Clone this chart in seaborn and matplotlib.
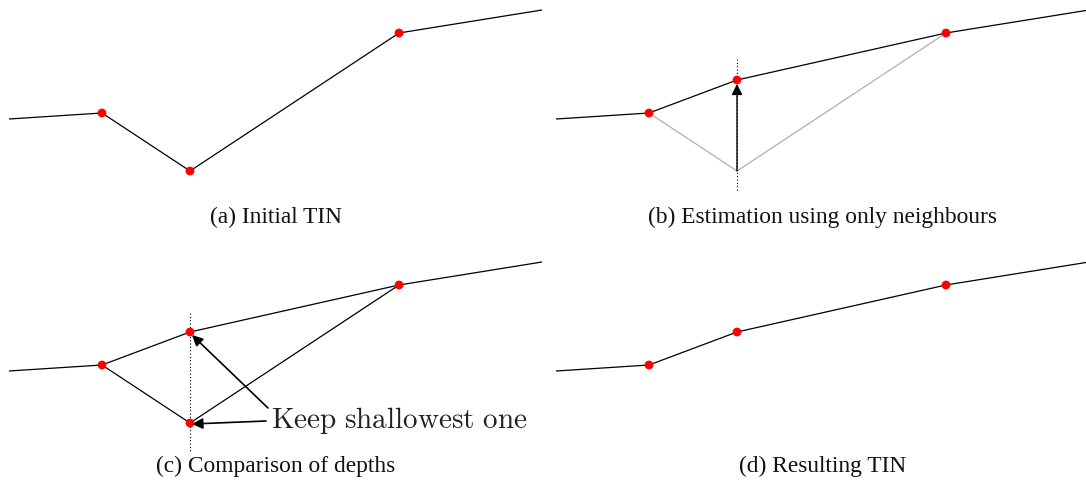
import pandas as pd
import matplotlib.pyplot as plt
import seaborn as sns

# Profile nodes (horizontal position) and depths (larger = deeper)
node_x = [0, 93, 181, 390, 533]
depth_initial = [11.9, 11.3, 17.1, 3.3, 1.0]
depth_estimate = 8.0          # estimated depth of the middle node from its neighbours
captions = ["(a) Initial TIN", "(b) Estimation using only neighbours",
            "(c) Comparison of depths", "(d) Resulting TIN"]
note_text = "Keep shallowest one"

sns.set_theme(style="white")
plt.rcParams['font.family'] = ['Liberation Serif', 'DejaVu Serif']
plt.rcParams['mathtext.fontset'] = 'cm'

LINE = dict(color="black", linewidth=0.9)
GREY = dict(color="#b0b0b0", linewidth=0.9)
DOT = dict(color="red", s=40, edgecolor="none", zorder=5)

mid = node_x[2]
depth_result = depth_initial[:2] + [depth_estimate] + depth_initial[3:]

df_initial = pd.DataFrame({"x": node_x, "depth": depth_initial})
df_result = pd.DataFrame({"x": node_x, "depth": depth_result})
df_neigh = df_initial.iloc[1:4]          # p1 -> deep middle node -> p3
pts_initial = df_initial.iloc[1:4]
pts_result = df_result.iloc[1:4]
pts_both = pd.concat([pts_result, df_initial.iloc[[2]]])

fig = plt.figure(figsize=(10.86, 4.84), dpi=100)
W, H = 1086, 484
pw, ph = 533, 232
axes = [
    fig.add_axes([9 / W, (H - ph) / H, pw / W, ph / H]),
    fig.add_axes([556 / W, (H - ph) / H, pw / W, ph / H]),
    fig.add_axes([9 / W, 0, pw / W, ph / H]),
    fig.add_axes([556 / W, 0, pw / W, ph / H]),
]

# (a) initial TIN
ax = axes[0]
sns.lineplot(data=df_initial, x="x", y="depth", sort=False, ax=ax, **LINE)
sns.scatterplot(data=pts_initial, x="x", y="depth", ax=ax, **DOT)

# (b) estimation from neighbours
ax = axes[1]
sns.lineplot(data=df_neigh, x="x", y="depth", sort=False, ax=ax, **GREY)
sns.lineplot(data=df_result, x="x", y="depth", sort=False, ax=ax, **LINE)
sns.scatterplot(data=pts_result, x="x", y="depth", ax=ax, **DOT)
ax.vlines(mid, 5.9, 19.2, colors="black", linestyles=(0, (1, 2)), linewidth=0.8)
ax.annotate("", xy=(mid, depth_estimate + 0.4), xytext=(mid, depth_initial[2]),
            arrowprops=dict(arrowstyle="-|>", color="black", lw=1.0, mutation_scale=16,
                            shrinkA=0, shrinkB=0))

# (c) comparison of depths
ax = axes[2]
sns.lineplot(data=df_neigh, x="x", y="depth", sort=False, ax=ax, **LINE)
sns.lineplot(data=df_result, x="x", y="depth", sort=False, ax=ax, **LINE)
sns.scatterplot(data=pts_both, x="x", y="depth", ax=ax, **DOT)
ax.vlines(mid, 6.1, 20.0, colors="black", linestyles=(0, (1, 2)), linewidth=0.8)
ax.text(262, 17.6, r"$\mathrm{Keep\ shallowest\ one}$", fontsize=21,
        ha="left", va="baseline", color="#222222")
ax.annotate("", xy=(mid + 2, depth_estimate + 0.3), xytext=(259, 15.6),
            arrowprops=dict(arrowstyle="-|>", color="black", lw=1.2, mutation_scale=16,
                            shrinkA=0, shrinkB=0))
ax.annotate("", xy=(mid + 2, depth_initial[2] + 0.1), xytext=(257, 16.9),
            arrowprops=dict(arrowstyle="-|>", color="black", lw=1.2, mutation_scale=16,
                            shrinkA=0, shrinkB=0))

# (d) resulting TIN
ax = axes[3]
sns.lineplot(data=df_result, x="x", y="depth", sort=False, ax=ax, **LINE)
sns.scatterplot(data=pts_result, x="x", y="depth", ax=ax, **DOT)

for i, (ax, cap) in enumerate(zip(axes, captions)):
    ax.set_xlim(0, pw)
    ax.set_ylim(ph / 10, 0)
    ax.axis("off")
    ax.text(0.5, 0.04 if i < 2 else 0.05, cap, transform=ax.transAxes,
            ha="center", va="baseline", fontsize=16.8, color="#111111")

fig.savefig("out.png", dpi=100)
